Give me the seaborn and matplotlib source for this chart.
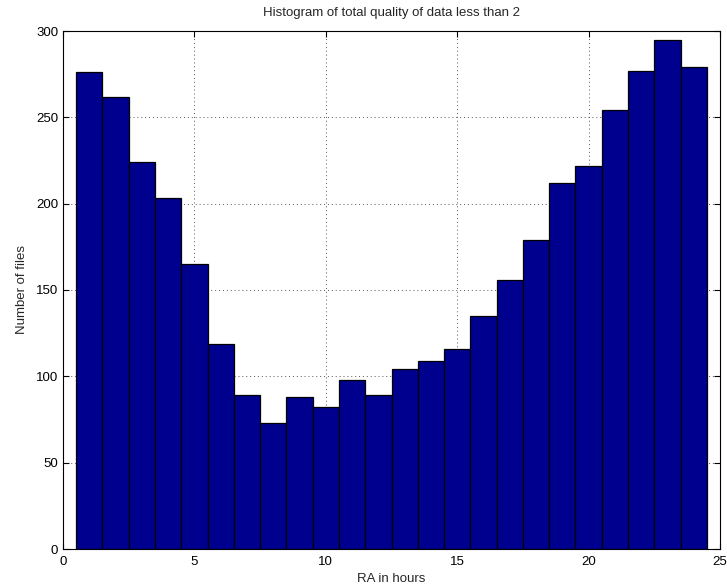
import numpy as np
import pandas as pd
import matplotlib
matplotlib.use("Agg")
import matplotlib.pyplot as plt
import seaborn as sns

# Hourly RA bin centres and file counts per bin
ra_hours = [1, 2, 3, 4, 5, 6, 7, 8, 9, 10, 11, 12,
            13, 14, 15, 16, 17, 18, 19, 20, 21, 22, 23, 24]
file_counts = [276, 262, 224, 203, 165, 119, 89, 73, 88, 82, 98, 89,
               104, 109, 116, 135, 156, 179, 212, 222, 254, 277, 295, 279]
x_ticks = [0, 5, 10, 15, 20, 25]
y_ticks = [0, 50, 100, 150, 200, 250, 300]

sns.set_theme(style="white")
plt.rcParams["font.family"] = ["Liberation Sans", "DejaVu Sans"]

df = pd.DataFrame({"ra": ra_hours, "count": file_counts})

fig = plt.figure(figsize=(7.27, 5.87), dpi=100)
ax = fig.add_axes([63 / 727, 38 / 587, 657 / 727, 518 / 587])

sns.histplot(data=df, x="ra", weights="count",
             binwidth=1.0, binrange=(0.5, 24.5),
             color="#00008F", edgecolor="black", linewidth=0.9,
             alpha=1.0, ax=ax, zorder=2)

ax.set_xlim(0, 25)
ax.set_ylim(0, 300)
ax.set_xticks(x_ticks)
ax.set_yticks(y_ticks)
ax.set_xticklabels([str(t) for t in x_ticks])
ax.set_yticklabels([str(t) for t in y_ticks])

ax.grid(True, linestyle=(0, (1, 3)), color="#555555", linewidth=0.7, zorder=0)
ax.set_axisbelow(True)

ax.tick_params(direction="in", length=4, width=0.8, colors="black",
               top=True, right=True, bottom=True, left=True,
               labelsize=9.5)
ax.tick_params(axis="x", pad=5)
ax.tick_params(axis="y", pad=3.5)
for side in ax.spines.values():
    side.set_color("black")
    side.set_linewidth(0.8)
    side.set_visible(True)

ax.set_xlabel("RA in hours", fontsize=9.5, labelpad=4)
ax.set_ylabel("Number of files", fontsize=9.5, labelpad=6)
ax.set_title("Histogram of total quality of data less than 2", fontsize=9.5, pad=10.5)

fig.savefig("out.png", dpi=100)
